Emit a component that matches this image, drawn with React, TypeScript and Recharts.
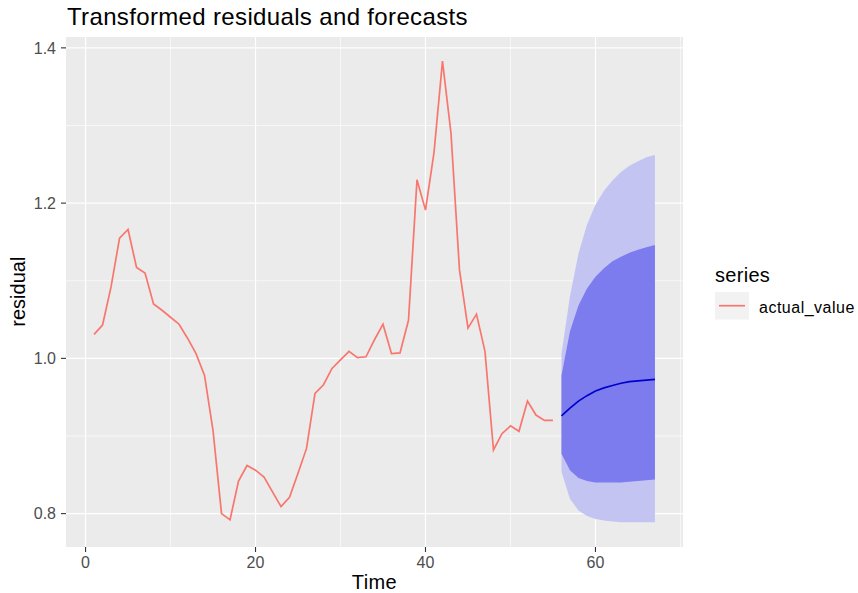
import React from 'react';
import {
  ComposedChart,
  Line,
  Area,
  XAxis,
  YAxis,
  CartesianGrid,
  Customized,
} from 'recharts';

// ---- data ----
const actualTime = [
  1, 2, 3, 4, 5, 6, 7, 8, 9, 10, 11, 12, 13, 14, 15, 16, 17, 18, 19, 20,
  21, 22, 23, 24, 25, 26, 27, 28, 29, 30, 31, 32, 33, 34, 35, 36, 37, 38, 39, 40,
  41, 42, 43, 44, 45, 46, 47, 48, 49, 50, 51, 52, 53, 54, 55,
];
const actualValue = [
  1.031, 1.043, 1.092, 1.155, 1.166, 1.117, 1.11, 1.07, 1.062, 1.053,
  1.044, 1.026, 1.006, 0.978, 0.907, 0.8, 0.792, 0.842, 0.862, 0.856,
  0.847, 0.828, 0.809, 0.821, 0.852, 0.884, 0.955, 0.966, 0.987, 0.998,
  1.009, 1.001, 1.002, 1.024, 1.044, 1.006, 1.007, 1.049, 1.23, 1.191,
  1.265, 1.383, 1.29, 1.114, 1.039, 1.057, 1.009, 0.882, 0.903, 0.913,
  0.906, 0.945, 0.927, 0.92, 0.92,
];

const forecastTime = [56, 57, 58, 59, 60, 61, 62, 63, 64, 65, 66, 67];
const forecastMean = [0.926, 0.936, 0.945, 0.952, 0.958, 0.962, 0.965, 0.968, 0.97, 0.971, 0.972, 0.973];
const lo80 = [0.877, 0.856, 0.846, 0.842, 0.84, 0.84, 0.84, 0.84, 0.841, 0.842, 0.843, 0.844];
const hi80 = [0.978, 1.035, 1.068, 1.09, 1.105, 1.116, 1.125, 1.131, 1.136, 1.14, 1.143, 1.146];
const lo95 = [0.854, 0.819, 0.804, 0.797, 0.793, 0.791, 0.79, 0.789, 0.789, 0.789, 0.789, 0.789];
const hi95 = [1.006, 1.08, 1.135, 1.172, 1.198, 1.216, 1.229, 1.24, 1.248, 1.254, 1.259, 1.262];

const xTicks = [0, 20, 40, 60];
const xMinor = [10, 30, 50, 70];
const yTicks = [0.8, 1.0, 1.2, 1.4];
const yMinor = [0.9, 1.1, 1.3];

const titleText = 'Transformed residuals and forecasts';
const xTitle = 'Time';
const yTitle = 'residual';
const legendTitle = 'series';
const legendLabel = 'actual_value';

// ---- build table ----
const data: any[] = [
  ...actualTime.map((t, i) => ({ t, actual: actualValue[i] })),
  ...forecastTime.map((t, i) => ({
    t,
    mean: forecastMean[i],
    band80: [lo80[i], hi80[i]],
    band95: [lo95[i], hi95[i]],
  })),
];

const FONT = '"Liberation Sans", Arial, Helvetica, sans-serif';
const RED = '#F8766D';

const Decorations = () => (
  <g fontFamily={FONT}>
    <text x={67} y={25} fontSize={24} letterSpacing={0.35} fill="#000">{titleText}</text>
    <text x={374.5} y={589} fontSize={20} letterSpacing={0.4} fill="#000" textAnchor="middle">{xTitle}</text>
    <text
      x={0}
      y={0}
      fontSize={20}
      fill="#000"
      textAnchor="middle"
      transform="translate(25,291.7) rotate(-90)"
    >
      {yTitle}
    </text>
    <text x={715} y={282} fontSize={20} letterSpacing={0.3} fill="#000">{legendTitle}</text>
    <rect x={715} y={292} width={34} height={27.5} fill="#F2F2F2" />
    <line x1={719} x2={745} y1={305.7} y2={305.7} stroke={RED} strokeWidth={1.7} />
    <text x={759} y={312.5} fontSize={16} letterSpacing={0.5} fill="#000">{legendLabel}</text>
  </g>
);

export default function App() {
  return (
    <div style={{ position: 'absolute', left: 0, top: 0, width: 858, height: 593, background: '#fff' }}>
      <ComposedChart
        width={858}
        height={593}
        data={data}
        margin={{ top: 37, right: 175, bottom: 0, left: 0 }}
      >
        <CartesianGrid
          fill="#EBEBEB"
          stroke="#FFFFFF"
          strokeWidth={0.6}
          horizontalValues={yMinor}
          verticalValues={xMinor}
        />
        <CartesianGrid
          stroke="#FFFFFF"
          strokeWidth={1.2}
          horizontalValues={yTicks}
          verticalValues={xTicks}
        />
        <XAxis
          dataKey="t"
          type="number"
          domain={[-2.3, 70.3]}
          allowDataOverflow
          ticks={xTicks}
          height={46}
          axisLine={false}
          tickLine={{ stroke: '#333333', strokeWidth: 1.1 }}
          tickSize={5}
          tickMargin={5}
          tick={{ fill: '#4D4D4D', fontSize: 16, fontFamily: FONT }}
        />
        <YAxis
          type="number"
          domain={[0.757, 1.414]}
          allowDataOverflow
          ticks={yTicks}
          width={66}
          axisLine={false}
          tickLine={{ stroke: '#333333', strokeWidth: 1.1 }}
          tickSize={5}
          tickMargin={5}
          tickFormatter={(v: number) => v.toFixed(1)}
          tick={{ fill: '#4D4D4D', fontSize: 16, fontFamily: FONT }}
        />
        <Area
          dataKey="band95"
          type="linear"
          stroke="none"
          fill="#C4C4F3"
          fillOpacity={1}
          isAnimationActive={false}
          dot={false}
          activeDot={false}
        />
        <Area
          dataKey="band80"
          type="linear"
          stroke="none"
          fill="#7C7CEE"
          fillOpacity={1}
          isAnimationActive={false}
          dot={false}
          activeDot={false}
        />
        <Line
          dataKey="actual"
          type="linear"
          stroke={RED}
          strokeWidth={1.7}
          dot={false}
          activeDot={false}
          isAnimationActive={false}
        />
        <Line
          dataKey="mean"
          type="linear"
          stroke="#0000CC"
          strokeWidth={1.7}
          dot={false}
          activeDot={false}
          isAnimationActive={false}
        />
        <Customized component={Decorations} />
      </ComposedChart>
    </div>
  );
}
